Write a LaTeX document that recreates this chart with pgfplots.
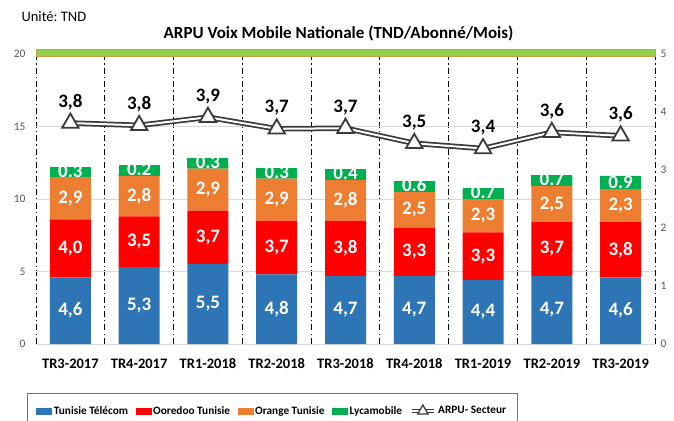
\documentclass[border=0pt]{standalone}
\usepackage{pgfplots}
\pgfplotsset{compat=1.18}
\usepackage{pgfplotstable}
\usepackage{fontspec}
\setmainfont{Carlito}
\frenchspacing
\definecolor{cTT}{HTML}{2E75B6}
\definecolor{cOO}{HTML}{FF0000}
\definecolor{cOR}{HTML}{ED7D31}
\definecolor{cLY}{HTML}{00B050}
\definecolor{band}{HTML}{92D050}
\definecolor{bandedge}{HTML}{C9A13B}
\definecolor{gridc}{HTML}{D9D9D9}
\definecolor{tickc}{HTML}{595959}
\definecolor{lineedge}{HTML}{3A3A3A}

% values and their printed labels
\pgfplotstableread{
x tt oo ot ly arpu ttl ool otl lyl arpul
0 4.6 4.0 2.9 0.3 3.81 4,6 4,0 2,9 0.3 3,8
1 5.3 3.5 2.8 0.2 3.77 5,3 3,5 2,8 0.2 3,8
2 5.5 3.7 2.9 0.3 3.91 5,5 3,7 2,9 0.3 3,9
3 4.8 3.7 2.9 0.3 3.71 4,8 3,7 2,9 0.3 3,7
4 4.7 3.8 2.8 0.4 3.72 4,7 3,8 2,8 0.4 3,7
5 4.7 3.3 2.5 0.6 3.46 4,7 3,3 2,5 0.6 3,5
6 4.4 3.3 2.3 0.7 3.37 4,4 3,3 2,3 0.7 3,4
7 4.7 3.7 2.5 0.7 3.65 4,7 3,7 2,5 0.7 3,6
8 4.6 3.8 2.3 0.9 3.59 4,6 3,8 2,3 0.9 3,6
}\data

\pgfplotsset{
  baseax/.style={
    at={(0,0)}, anchor=south west, scale only axis, width=619pt, height=290pt,
    xmin=-0.5, xmax=8.5,
  },
  lab/.style={only marks, mark=none, point meta=explicit symbolic, nodes near coords,
    every node near coord/.append style={font=\fontsize{19}{20}\selectfont\bfseries, text=white, anchor=center}},
  sqimg/.style={legend image code/.code={\fill[#1] (0pt,-3pt) rectangle (15pt,3pt);}},
  arpuimg/.style={legend image code/.code={
    \draw[lineedge, line width=4.6pt] (0pt,0pt) -- (22pt,0pt);
    \draw[white, line width=1.6pt] (0pt,0pt) -- (22pt,0pt);
    \draw[lineedge, fill=white, line width=1.3pt] (11pt,0pt) +(90:6pt) -- +(210:6pt) -- +(330:6pt) -- cycle;}},
}

\begin{document}
\begin{tikzpicture}[x=1pt,y=1pt]
\useasboundingbox (-36,-76) rectangle (638,344);
\clip (-36,-76) rectangle (638,344);
\node[anchor=west, font=\fontsize{14.5}{16}\selectfont] at (-18,327) {Unité: TND};
\node[font=\fontsize{17}{19}\selectfont\bfseries] at (302.5,311) {ARPU Voix Mobile Nationale (TND/Abonné/Mois)};
% stacked bars
\begin{axis}[baseax,
  ymin=0, ymax=20,
  ybar stacked, bar width=41pt,
  xtick={0,...,8},
  xticklabels={TR3-2017,TR4-2017,TR1-2018,TR2-2018,TR3-2018,TR4-2018,TR1-2019,TR2-2019,TR3-2019},
  xticklabel style={font=\fontsize{14.5}{16}\selectfont\bfseries, anchor=center, yshift=-20pt},
  minor xtick={-0.5,0.5,...,8.5},
  xminorgrids,
  minor x grid style={black, line width=0.9pt, dash pattern=on 6pt off 3pt on 1.5pt off 3pt},
  ytick={0,5,10,15,20},
  yticklabels={0,5,10,15,20},
  ymajorgrids, y grid style={gridc, line width=0.8pt},
  axis x line*=bottom, axis y line*=left,
  x axis line style={draw=gridc, -}, y axis line style={draw=none},
  major tick length=0pt, minor tick length=0pt,
  yticklabel style={font=\fontsize{11.5}{13}\selectfont, text=tickc, anchor=east, xshift=-7pt},
  clip=false,
]
\addplot[fill=cTT, draw=none] table[x=x, y=tt]{\data};
\addplot[fill=cOO, draw=none] table[x=x, y=oo]{\data};
\addplot[fill=cOR, draw=none] table[x=x, y=ot]{\data};
\addplot[fill=cLY, draw=none] table[x=x, y=ly]{\data};
\fill[band, draw=bandedge, line width=0.8pt] ([yshift=5pt]rel axis cs:0,1) rectangle ([yshift=-2pt]rel axis cs:1,1);
\end{axis}
% bar labels
\begin{axis}[baseax, ymin=0, ymax=20, hide axis, clip=false]
\addplot[lab] table[x=x, y expr=\thisrow{tt}/2, meta=ttl]{\data};
\addplot[lab] table[x=x, y expr=\thisrow{tt}+\thisrow{oo}/2, meta=ool]{\data};
\addplot[lab] table[x=x, y expr=\thisrow{tt}+\thisrow{oo}+\thisrow{ot}/2, meta=otl]{\data};
\addplot[lab, every node near coord/.append style={fill=cLY, anchor=south, inner sep=0pt, minimum width=41pt, text height=10.5pt, text depth=0pt}]
  table[x=x, y expr=\thisrow{tt}+\thisrow{oo}+\thisrow{ot}, meta=lyl]{\data};
\end{axis}
% ARPU line on right axis
\begin{axis}[baseax,
  ymin=0, ymax=5,
  axis x line=none, axis y line*=right, y axis line style={draw=none},
  ytick={0,1,2,3,4,5}, yticklabels={0,1,2,3,4,5}, major tick length=0pt,
  yticklabel style={font=\fontsize{11.5}{13}\selectfont, text=tickc, anchor=west, xshift=2pt},
  clip=false,
  legend columns=5,
  legend style={at={(-0.01454,-0.169)}, anchor=north west, draw=black!55, line width=0.6pt,
    font=\fontsize{11.3}{13}\selectfont\bfseries, inner xsep=9pt, inner ysep=11pt,
    /tikz/every even column/.append style={column sep=5.5pt},
    nodes={inner xsep=2pt}},
]
\addlegendimage{sqimg=cTT}
\addlegendentry{Tunisie Télécom}
\addlegendimage{sqimg=cOO}
\addlegendentry{Ooredoo Tunisie}
\addlegendimage{sqimg=cOR}
\addlegendentry{Orange Tunisie}
\addlegendimage{sqimg=cLY}
\addlegendentry{Lycamobile}
\addlegendimage{arpuimg}
\addlegendentry{ARPU- Secteur}
\addplot[lineedge, line width=5.5pt, forget plot] table[x=x, y=arpu]{\data};
\addplot[white, line width=2pt, forget plot] table[x=x, y=arpu]{\data};
\addplot[only marks, mark=triangle*, mark size=9.5pt, mark options={draw=lineedge, fill=white, line width=1.8pt}, forget plot] table[x=x, y=arpu]{\data};
\addplot[lab, forget plot, every node near coord/.append style={text=black, yshift=21pt}] table[x=x, y=arpu, meta=arpul]{\data};
\end{axis}
\end{tikzpicture}
\end{document}
